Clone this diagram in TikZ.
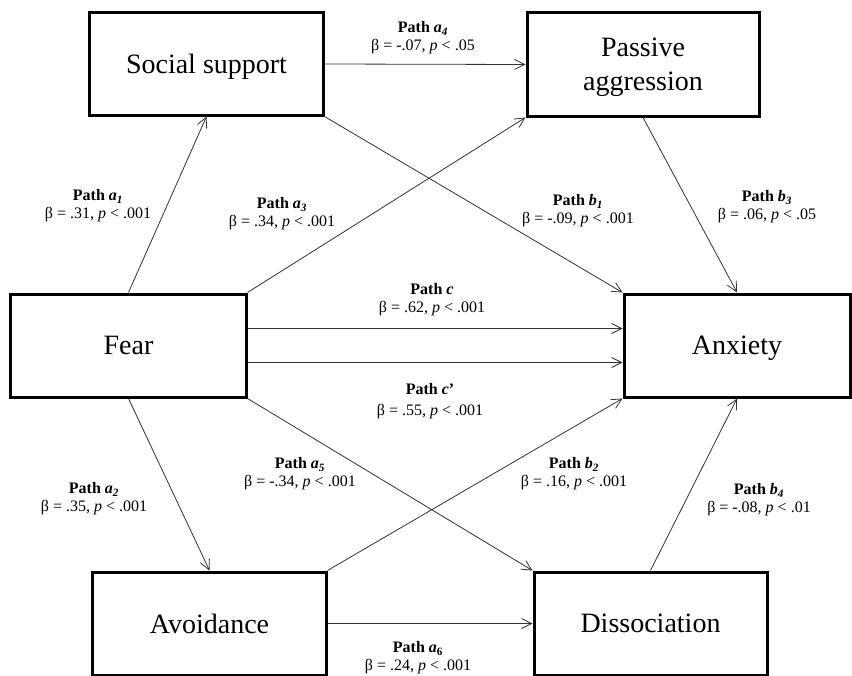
\documentclass[tikz,border=0pt]{standalone}
\usepackage{fontspec}
\setmainfont{Liberation Serif}
\usetikzlibrary{arrows.meta}
\newcommand{\pth}[2]{\textbf{Path \textit{#1}\textsubscript{\textit{#2}}}}
\begin{document}
\begin{tikzpicture}[x=1bp,y=-1bp,
  box/.style={draw=black,line width=3bp,rectangle,align=center,
    font=\fontsize{28bp}{34bp}\selectfont,inner sep=0pt,text depth=0bp},
  lab/.style={align=center,font=\fontsize{16bp}{17.5bp}\selectfont,inner sep=0pt,text depth=0bp},
  conn/.style={draw=black!80,line width=0.8bp,-{Straight Barb[length=10bp,width=10bp,line width=0.8bp]}}]
\useasboundingbox[fill=white] (0,0) rectangle (852,676);
\node[box,minimum width=233bp,minimum height=102bp] (ss) at (206.5,64) {Social support};
\node[box,minimum width=232bp,minimum height=103bp] (pa) at (643,64.5) {Passive\\aggression};
\node[box,minimum width=235bp,minimum height=103bp] (fear) at (128.5,345.5) {Fear};
\node[box,minimum width=226bp,minimum height=103bp] (anx) at (737,345.5) {Anxiety};
\node[box,minimum width=233bp,minimum height=103bp] (avo) at (209.5,623.5) {Avoidance};
\node[box,minimum width=233bp,minimum height=103bp] (dis) at (650.5,623.5) {Dissociation};

\draw[conn] (ss.east) -- (pa.west);
\draw[conn] (fear.north) -- (ss.south);
\draw[conn] (fear.north east) -- (pa.south west);
\draw[conn] (ss.south east) -- (anx.north west);
\draw[conn] (pa.south) -- (anx.north);
\draw[conn] ([yshift=17bp]fear.east) -- ([yshift=17bp]anx.west);
\draw[conn] ([yshift=-17bp]fear.east) -- ([yshift=-17bp]anx.west);
\draw[conn] (fear.south) -- (avo.north);
\draw[conn] (fear.south east) -- (dis.north west);
\draw[conn] (avo.north east) -- (anx.south west);
\draw[conn] (avo.east) -- (dis.west);
\draw[conn] (dis.north) -- (anx.south);

\node[lab] (la4) at (423,36) {\pth{a}{4}\\β = -.07, \textit{p} < .05};
\node[lab] (la1) at (98,204) {\pth{a}{1}\\β = .31, \textit{p} < .001};
\node[lab] (la3) at (282,212) {\pth{a}{3}\\β = .34, \textit{p} < .001};
\node[lab] (lb1) at (578,209) {\pth{b}{1}\\β = -.09, \textit{p} < .001};
\node[lab] (lb3) at (767,205) {\pth{b}{3}\\β = .06, \textit{p} < .05};
\node[lab] (lc) at (432,298) {\textbf{Path \textit{c}}\\β = .62, \textit{p} < .001};
\node[lab,font=\fontsize{16bp}{21bp}\selectfont] (lc2) at (430,399) {\textbf{Path \textit{c}’}\\β = .55, \textit{p} < .001};
\node[lab] (la2) at (94,497) {\pth{a}{2}\\β = .35, \textit{p} < .001};
\node[lab] (la5) at (300,472) {\pth{a}{5}\\β = -.34, \textit{p} < .001};
\node[lab] (lb2) at (574,472) {\pth{b}{2}\\β = .16, \textit{p} < .001};
\node[lab] (lb4) at (759,498) {\pth{b}{4}\\β = -.08, \textit{p} < .01};
\node[lab] (la6) at (418,656) {\textbf{Path \textit{a}\textsubscript{6}}\\β = .24, \textit{p} < .001};
\end{tikzpicture}
\end{document}
